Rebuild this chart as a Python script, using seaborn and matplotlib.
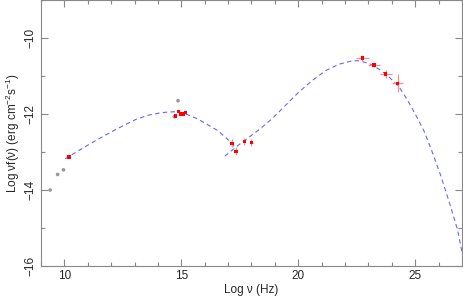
import numpy as np
import pandas as pd
import matplotlib
matplotlib.use("Agg")
import matplotlib.pyplot as plt
import seaborn as sns
from matplotlib.ticker import MultipleLocator

# measured points (red, with error bars)
det_x = [10.2, 14.89, 14.76, 14.99, 15.1, 15.17, 17.17, 17.34, 17.69, 18.0,
         22.74, 23.24, 23.74, 24.25]
det_y = [-13.13, -11.94, -12.05, -12.0, -12.0, -11.96, -12.77, -12.98, -12.72, -12.75,
         -10.53, -10.71, -10.95, -11.19]
det_xerr = [0.0, 0.0, 0.0, 0.0, 0.0, 0.0, 0.05, 0.05, 0.05, 0.05,
            0.29, 0.26, 0.26, 0.25]
det_yerr = [0.0, 0.0, 0.0, 0.0, 0.0, 0.0, 0.1, 0.1, 0.1, 0.1,
            0.07, 0.05, 0.1, 0.23]

# archival points (grey)
arc_x = [9.39, 9.71, 9.96, 14.86, 14.70]
arc_y = [-14.0, -13.59, -13.47, -11.65, -12.07]

# model curves
sync_x = [10.03, 10.67, 11.39, 12.1, 12.6, 13.1, 13.6, 14.1, 14.4, 14.74, 15.24, 15.67,
          16.1, 16.57, 17.17, 17.27]
sync_y = [-13.18, -12.94, -12.68, -12.44, -12.28, -12.13, -12.03, -11.97, -11.95, -11.94,
          -12.01, -12.12, -12.27, -12.44, -12.77, -12.86]
ic_x = [16.86, 17.46, 18.31, 18.89, 19.46, 20.03, 20.6, 21.17, 21.74, 22.32, 22.6,
        23.03, 23.46, 23.89, 24.32, 24.68, 25.03, 25.39, 25.75, 26.1, 26.46, 26.82, 27.0]
ic_y = [-13.11, -12.81, -12.42, -12.12, -11.77, -11.42, -11.12, -10.86, -10.69, -10.6,
        -10.6, -10.67, -10.82, -11.03, -11.29, -11.64, -12.03, -12.46, -13.03, -13.63,
        -14.32, -15.06, -15.62]

sns.set_style("ticks")
plt.rcParams['font.family'] = ['Liberation Sans', 'DejaVu Sans']
plt.rcParams['mathtext.default'] = 'regular'

fig = plt.figure(figsize=(4.63, 3.0), dpi=100)
ax = fig.add_axes([0.0886, 0.1133, 0.909, 0.8867])

blue = (0.4, 0.4, 1.0)
sns.lineplot(x=sync_x, y=sync_y, ax=ax, color=blue, lw=0.8, sort=False)
sns.lineplot(x=ic_x, y=ic_y, ax=ax, color=blue, lw=0.8, sort=False)
for l in ax.lines:
    l.set_dashes([4, 3])

ax.errorbar(det_x, det_y, xerr=det_xerr, yerr=det_yerr, fmt='none',
            ecolor=(1.0, 0.55, 0.55), elinewidth=0.9, capsize=0, zorder=3)
sns.scatterplot(x=arc_x, y=arc_y, ax=ax, color='#999999', s=7, marker='o',
                edgecolor='none', zorder=4)
sns.scatterplot(x=det_x, y=det_y, ax=ax, color='red', s=6, marker='s',
                edgecolor='none', zorder=5)

ax.set_xlim(9, 27)
ax.set_ylim(-16, -9)
ax.xaxis.set_major_locator(MultipleLocator(5))
ax.xaxis.set_minor_locator(MultipleLocator(1))
ax.yaxis.set_major_locator(MultipleLocator(2))
ax.yaxis.set_minor_locator(MultipleLocator(1))
ax.tick_params(which='both', direction='in', top=True, right=True,
               color='#888888', labelsize=8.5, pad=3)
ax.tick_params(which='major', length=5, width=0.8)
ax.tick_params(which='minor', length=3, width=0.8)
ax.set_yticks([-16, -14, -12, -10])
ax.set_yticklabels(['\u221216', '\u221214', '\u221212', '\u221210'], rotation=90, va='center')
for s in ax.spines.values():
    s.set_color('#888888')
    s.set_linewidth(0.8)

ax.set_xlabel('Log \u03bd (Hz)', fontsize=8.5, labelpad=1)
ax.set_ylabel('Log \u03bdf(\u03bd) (erg cm$^{-2}$s$^{-1}$)', fontsize=8.5, labelpad=2)

fig.savefig('out.png', dpi=100)
